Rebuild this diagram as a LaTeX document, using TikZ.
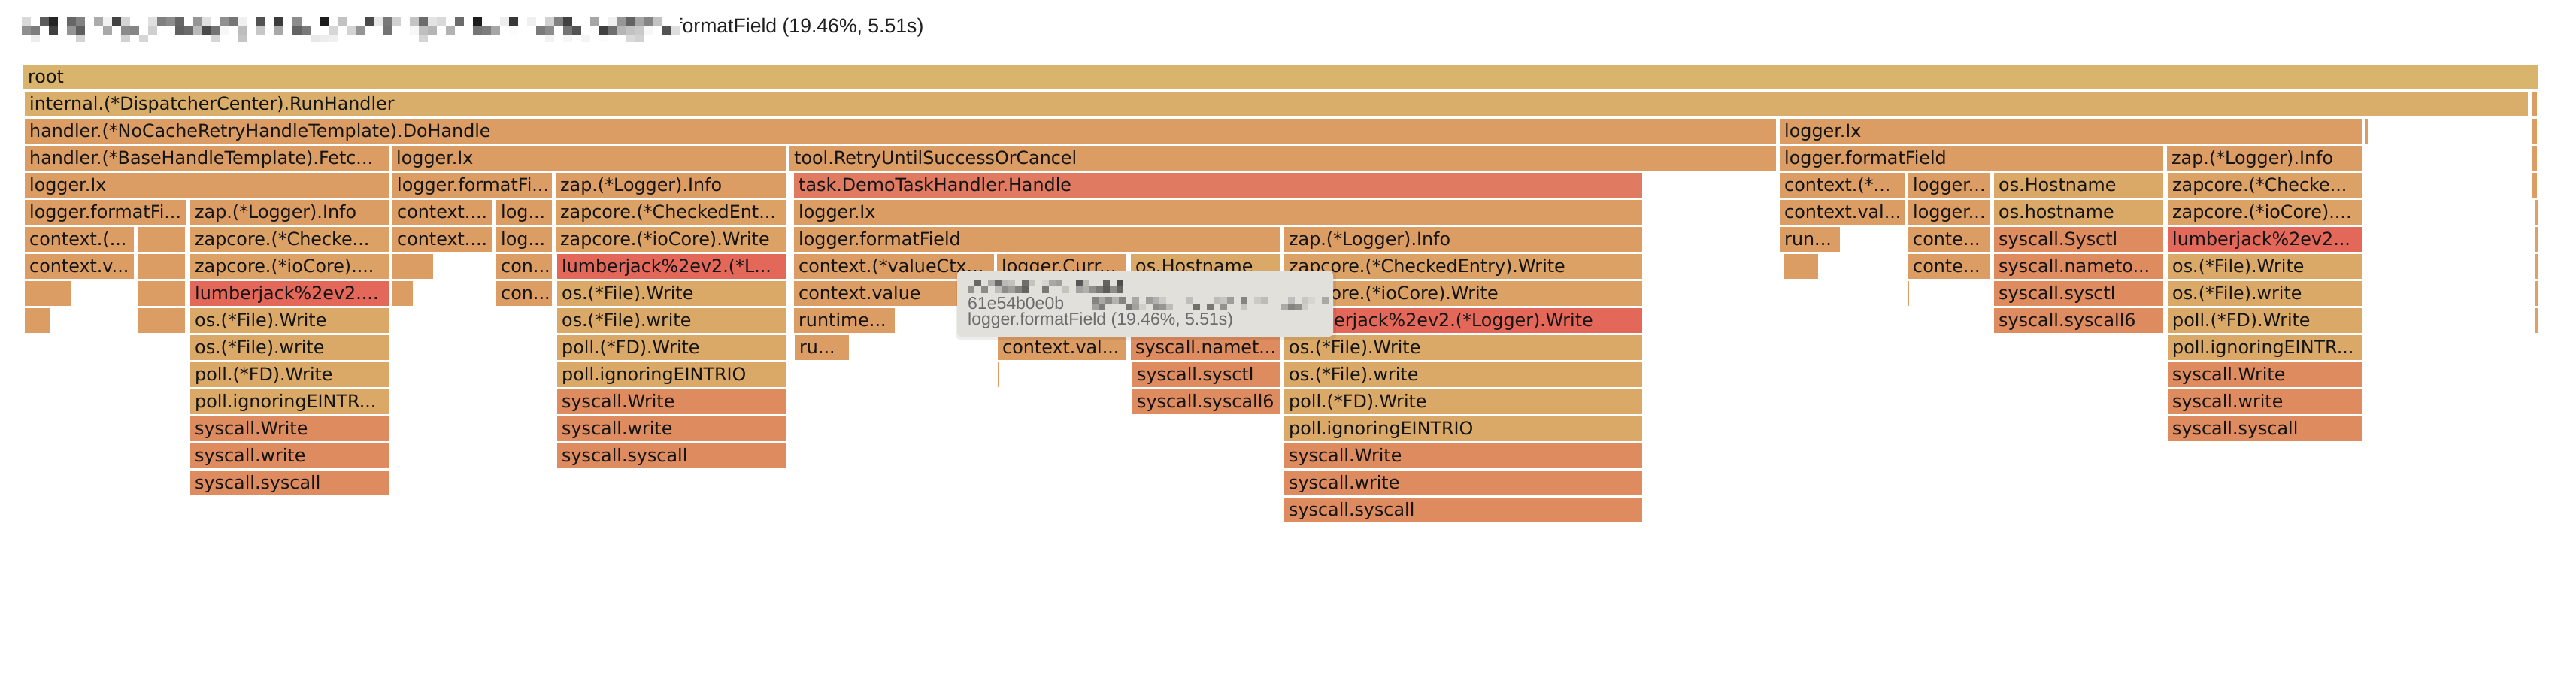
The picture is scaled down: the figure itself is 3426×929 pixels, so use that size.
\documentclass[tikz,border=0pt]{standalone}
\usepackage{fontspec}
\setmainfont{DejaVu Sans}
\newfontfamily\uifont{Liberation Sans}
\usetikzlibrary{positioning}

\definecolor{cRoot}{HTML}{D9B46C}
\definecolor{cRun}{HTML}{D9AD6A}
\definecolor{cOr}{HTML}{DC9D64}
\definecolor{cZap}{HTML}{DCA265}
\definecolor{cOs}{HTML}{DBA967}
\definecolor{cSys}{HTML}{DE8C5F}
\definecolor{cLj}{HTML}{E4685A}
\definecolor{cTask}{HTML}{E07A60}
\definecolor{cTip}{HTML}{E2E0DB}

\tikzset{
  lbl/.style={anchor=base west, inner sep=0pt, text=black!92,
    font=\fontsize{23.8bp}{28bp}\selectfont},
  ttl/.style={anchor=base west, inner sep=0pt, text=black!88,
    font=\uifont\fontsize{26.6bp}{30bp}\selectfont},
  tip/.style={anchor=base west, inner sep=0pt, text=black!58,
    font=\uifont\fontsize{23bp}{26bp}\selectfont},
}

% one frame of the flame graph: x1, x2, row, colour, label
\newcommand{\fbar}[5]{%
  \begin{scope}
    \clip (#1+1,86+36*#3) rectangle (#2-1,119+36*#3);
    \fill[#4] (#1+1,86+36*#3) rectangle (#2-1,119+36*#3);
    \node[lbl] (L#3-#1) at (#1+7,110.5+36*#3) {#5};
  \end{scope}}

\begin{document}
\begin{tikzpicture}[x=1bp, y=-1bp]
        \useasboundingbox (0,0) rectangle (3426,929);
        % Title
        \node[ttl] (title) at (900,43) {formatField (19.46\%, 5.51s)};
        \pgfmathsetseed{11}
        \foreach \i in {0,...,72}{
            \pgfmathtruncatemacro\ga{max(0,random(0,140)-45)}
            \pgfmathtruncatemacro\gb{max(0,random(0,130)-55)}
            \pgfmathtruncatemacro\gc{max(0,random(0,100)-75)}
            \fill[black!\ga] (29+12*\i,23) rectangle ++(12,12);
            \fill[black!\gb] (29+12*\i,35) rectangle ++(12,12);
            \fill[black!\gc] (29+12*\i,47) rectangle ++(12,9);
        }

        % Root and callers
        \fbar{30}{3377}{0}{cRoot}{root}
        \fbar{32}{3363}{1}{cRun}{internal.(*DispatcherCenter).RunHandler}
        \foreach \r in {1,2,3,4} \fbar{3367}{3375}{\r}{cOr}{};
        \foreach \r in {5,6,7,8,9} \fbar{3370}{3376}{\r}{cZap}{};

        % Orange frames
        \foreach \xa/\xb/\r/\t in {
            32/2363/2/{handler.(*NoCacheRetryHandleTemplate).DoHandle},
            2366/3143/2/{logger.Ix}, 3145/3151/2/{},
            32/518/3/{handler.(*BaseHandleTemplate).Fetc...},
            520/1046/3/{logger.Ix},
            1049/2363/3/{tool.RetryUntilSuccessOrCancel},
            2366/2878/3/{logger.formatField},
            2881/3143/3/{zap.(*Logger).Info},
            32/518/4/{logger.Ix}, 521/735/4/{logger.formatFi...},
            738/1046/4/{zap.(*Logger).Info},
            2366/2535/4/{context.(*...}, 2537/2648/4/{logger...},
            32/249/5/{logger.formatFi...}, 252/518/5/{zap.(*Logger).Info},
            521/656/5/{context....}, 659/735/5/{log...},
            1055/2185/5/{logger.Ix},
            2366/2535/5/{context.val...}, 2537/2648/5/{logger...},
            32/179/6/{context.(...}, 182/247/6/{},
            521/656/6/{context....}, 659/735/6/{log...},
            1055/1704/6/{logger.formatField},
            1707/2185/6/{zap.(*Logger).Info},
            2366/2448/6/{run...}, 2537/2648/6/{conte...},
            32/179/7/{context.v...}, 182/247/7/{}, 521/577/7/{},
            659/735/7/{con...},
            1055/1323/7/{context.(*valueCtx...}, 1325/1499/7/{logger.Curr...},
            2366/2369/7/{}, 2371/2419/7/{}, 2537/2648/7/{conte...},
            32/95/8/{}, 182/247/8/{}, 521/550/8/{}, 659/735/8/{con...},
            1055/1323/8/{context.value}, 2537/2540/8/{},
            32/67/9/{}, 182/247/9/{}, 1055/1191/9/{runtime...},
            1056/1130/10/{ru...}, 1326/1499/10/{context.val...},
            1326/1330/11/{}}
            \fbar{\xa}{\xb}{\r}{cOr}{\t};

        % zapcore frames
        \foreach \xa/\xb/\r/\t in {
            2882/3143/4/{zapcore.(*Checke...},
            738/1046/5/{zapcore.(*CheckedEnt...},
            2882/3143/5/{zapcore.(*ioCore)....},
            252/518/6/{zapcore.(*Checke...},
            738/1046/6/{zapcore.(*ioCore).Write},
            252/518/7/{zapcore.(*ioCore)....},
            1707/2185/7/{zapcore.(*CheckedEntry).Write},
            1707/2185/8/{zapcore.(*ioCore).Write}}
            \fbar{\xa}{\xb}{\r}{cZap}{\t};

        % os and poll frames
        \foreach \xa/\xb/\r/\t in {
            2651/2878/4/{os.Hostname}, 2651/2878/5/{os.hostname},
            1503/1704/7/{os.Hostname}, 2882/3143/7/{os.(*File).Write},
            740/1046/8/{os.(*File).Write}, 2882/3143/8/{os.(*File).write},
            252/518/9/{os.(*File).Write}, 740/1046/9/{os.(*File).write},
            2882/3143/9/{poll.(*FD).Write},
            252/518/10/{os.(*File).write}, 740/1046/10/{poll.(*FD).Write},
            1707/2185/10/{os.(*File).Write}, 2882/3143/10/{poll.ignoringEINTR...},
            252/518/11/{poll.(*FD).Write}, 740/1046/11/{poll.ignoringEINTRIO},
            1707/2185/11/{os.(*File).write},
            252/518/12/{poll.ignoringEINTR...}, 1707/2185/12/{poll.(*FD).Write},
            1707/2185/13/{poll.ignoringEINTRIO}}
            \fbar{\xa}{\xb}{\r}{cOs}{\t};

        % syscall frames
        \foreach \xa/\xb/\r/\t in {
            2651/2878/6/{syscall.Sysctl}, 2651/2878/7/{syscall.nameto...},
            2651/2878/8/{syscall.sysctl}, 2651/2878/9/{syscall.syscall6},
            1503/1704/10/{syscall.namet...},
            1505/1704/11/{syscall.sysctl}, 2882/3143/11/{syscall.Write},
            740/1046/12/{syscall.Write}, 1505/1704/12/{syscall.syscall6},
            2882/3143/12/{syscall.write},
            252/518/13/{syscall.Write}, 740/1046/13/{syscall.write},
            2882/3143/13/{syscall.syscall},
            252/518/14/{syscall.write}, 740/1046/14/{syscall.syscall},
            1707/2185/14/{syscall.Write},
            252/518/15/{syscall.syscall}, 1707/2185/15/{syscall.write},
            1707/2185/16/{syscall.syscall}}
            \fbar{\xa}{\xb}{\r}{cSys}{\t};

        % Hot frames
        \fbar{1055}{2185}{4}{cTask}{task.DemoTaskHandler.Handle}
        \foreach \xa/\xb/\r/\t in {
            2882/3143/6/{lumberjack\%2ev2...},
            740/1046/7/{lumberjack\%2ev2.(*L...},
            252/518/8/{lumberjack\%2ev2....},
            1707/2185/9/{lumberjack\%2ev2.(*Logger).Write}}
            \fbar{\xa}{\xb}{\r}{cLj}{\t};

        % Tooltip
        \fill[black, opacity=0.07, rounded corners=6] (1271,361) rectangle (1777,452);
        \fill[cTip, rounded corners=6] (1273,360) rectangle (1773,448);
        \node[tip] (tipId) at (1287,411) {61e54b0e0b};
        \node[tip] (tipName) at (1287,432) {logger.formatField (19.46\%, 5.51s)};
        \foreach \i in {0,...,22}{
            \pgfmathtruncatemacro\ga{max(0,random(0,100)-35)}
            \pgfmathtruncatemacro\gb{max(0,random(0,100)-40)}
            \fill[black!\ga!cTip] (1287+9*\i,372) rectangle ++(9,9);
            \fill[black!\gb!cTip] (1287+9*\i,381) rectangle ++(9,9);
        }
        \foreach \i in {0,...,34}{
            \pgfmathtruncatemacro\ga{max(0,random(0,100)-55)}
            \pgfmathtruncatemacro\gb{max(0,random(0,100)-50)}
            \fill[black!\ga!cTip] (1452+9*\i,395) rectangle ++(9,9);
            \fill[black!\gb!cTip] (1452+9*\i,404) rectangle ++(9,9);
        }
\end{tikzpicture}
\end{document}
